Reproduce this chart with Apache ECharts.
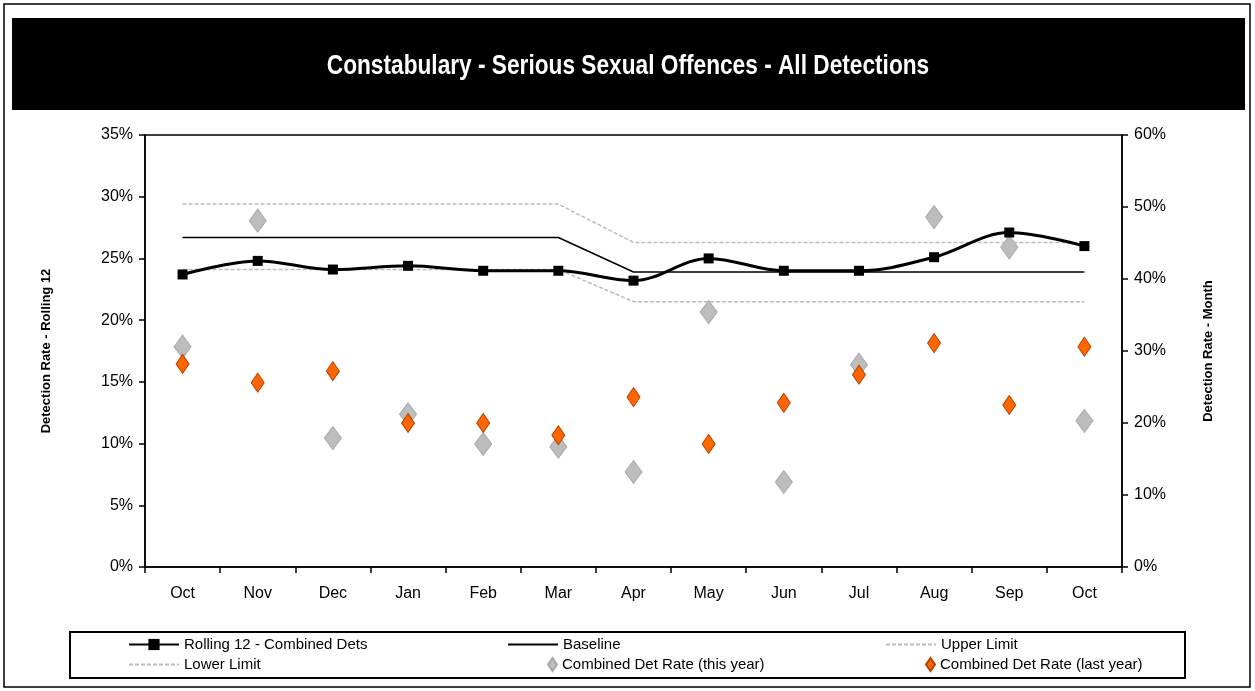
<!DOCTYPE html>
<html>
<head>
<meta charset="utf-8">
<script src="https://cdn.jsdelivr.net/npm/echarts@6/dist/echarts.min.js"></script>
<style>
  html, body { margin: 0; padding: 0; background: #fff; }
  #chart { width: 1255px; height: 691px; }
</style>
</head>
<body>
<div id="chart"></div>
<script>
const months = ['Oct', 'Nov', 'Dec', 'Jan', 'Feb', 'Mar', 'Apr', 'May', 'Jun', 'Jul', 'Aug', 'Sep', 'Oct'];

// left axis (rolling 12), percent
const rolling12 = [23.7, 24.8, 24.1, 24.4, 24.0, 24.0, 23.2, 25.0, 24.0, 24.0, 25.1, 27.1, 26.0];
const baseline = [26.7, 26.7, 26.7, 26.7, 26.7, 26.7, 23.9, 23.9, 23.9, 23.9, 23.9, 23.9, 23.9];
const upperLimit = [29.4, 29.4, 29.4, 29.4, 29.4, 29.4, 26.3, 26.3, 26.3, 26.3, 26.3, 26.3, 26.3];
const lowerLimit = [24.1, 24.1, 24.1, 24.1, 24.1, 24.1, 21.5, 21.5, 21.5, 21.5, 21.5, 21.5, 21.5];

// right axis (month), percent
const thisYear = [30.6, 48.1, 17.9, 21.2, 17.1, 16.7, 13.2, 35.4, 11.8, 28.1, 48.6, 44.4, 20.3];
const lastYear = [28.2, 25.6, 27.2, 20.0, 20.0, 18.3, 23.6, 17.1, 22.8, 26.7, 31.1, 22.5, 30.6];

const leftTicks = { min: 0, max: 35, interval: 5 };
const rightTicks = { min: 0, max: 60, interval: 10 };

const font = "'Liberation Sans', Arial, sans-serif";

const chart = echarts.init(document.getElementById('chart'));

const legendStyle = { fontFamily: font, fontSize: 15, color: '#000' };
function legendAt(name, left, top, w, h, extra) {
  return Object.assign({
    data: [name], left: left, top: top, itemWidth: w, itemHeight: h,
    itemGap: 6, textStyle: legendStyle, selectedMode: false, padding: 0
  }, extra || {});
}
const noSymbol = { itemStyle: { opacity: 0 } };

chart.setOption({
  animation: false,
  backgroundColor: '#fff',
  graphic: [
    { type: 'rect', shape: { x: 4, y: 4, width: 1246, height: 683 }, style: { fill: 'none', stroke: '#000', lineWidth: 1.5 }, z: -10 },
    { type: 'rect', shape: { x: 12, y: 18, width: 1233, height: 92 }, style: { fill: '#000' }, z: -5 },
    {
      type: 'text', x: 628, y: 67, scaleX: 0.84, z: 10,
      style: {
        text: 'Constabulary - Serious Sexual Offences - All Detections',
        fill: '#fff', font: 'bold 27px ' + font, align: 'center', verticalAlign: 'middle'
      }
    },
    { type: 'rect', shape: { x: 70, y: 632, width: 1115, height: 46 }, style: { fill: 'none', stroke: '#000', lineWidth: 2 }, z: -5 },
    { type: 'rect', shape: { x: 145, y: 135, width: 977, height: 432 }, style: { fill: 'none', stroke: '#000', lineWidth: 1.5 }, z: -1 }
  ],
  legend: [
    legendAt('Rolling 12 - Combined Dets', 128, 637, 50, 14),
    legendAt('Baseline', 507, 637, 50, 14, noSymbol),
    legendAt('Upper Limit', 885, 637, 50, 14, noSymbol),
    legendAt('Lower Limit', 128, 657, 50, 14, noSymbol),
    legendAt('Combined Det Rate (this year)', 547, 657, 9, 13),
    legendAt('Combined Det Rate (last year)', 925, 657, 9, 13)
  ],
  grid: { left: 145, right: 133, top: 135, bottom: 124 },
  xAxis: {
    type: 'category',
    data: months,
    boundaryGap: true,
    axisLine: { lineStyle: { color: '#000', width: 1.5 } },
    axisTick: { show: true, length: 6, lineStyle: { color: '#000', width: 1.5 } },
    axisLabel: { color: '#000', fontFamily: font, fontSize: 16, margin: 19 },
    splitLine: { show: false }
  },
  yAxis: [
    {
      type: 'value', position: 'left',
      min: leftTicks.min, max: leftTicks.max, interval: leftTicks.interval,
      name: 'Detection Rate - Rolling 12', nameLocation: 'middle', nameGap: 92,
      nameTextStyle: { color: '#000', fontFamily: font, fontWeight: 'bold', fontSize: 13 },
      axisLine: { show: true, lineStyle: { color: '#000', width: 1.5 } },
      axisTick: { show: true, length: 6, lineStyle: { color: '#000', width: 1.5 } },
      axisLabel: { color: '#000', fontFamily: font, fontSize: 16, margin: 12, formatter: '{value}%' },
      splitLine: { show: false }
    },
    {
      type: 'value', position: 'right',
      min: rightTicks.min, max: rightTicks.max, interval: rightTicks.interval,
      name: 'Detection Rate - Month', nameLocation: 'middle', nameGap: 80,
      nameRotate: 90,
      nameTextStyle: { color: '#000', fontFamily: font, fontWeight: 'bold', fontSize: 13 },
      axisLine: { show: true, lineStyle: { color: '#000', width: 1.5 } },
      axisTick: { show: true, length: 6, lineStyle: { color: '#000', width: 1.5 } },
      axisLabel: { color: '#000', fontFamily: font, fontSize: 16, margin: 12, formatter: '{value}%' },
      splitLine: { show: false }
    }
  ],
  series: [
    {
      name: 'Combined Det Rate (this year)', type: 'scatter', yAxisIndex: 1,
      data: thisYear, symbol: 'diamond', symbolSize: [17, 23], z: 1,
      itemStyle: { color: '#bdbdbd', borderColor: '#a8a8a8', borderWidth: 1, opacity: 1 }
    },
    {
      name: 'Combined Det Rate (last year)', type: 'scatter', yAxisIndex: 1,
      data: lastYear, symbol: 'diamond', symbolSize: [13, 19], z: 2,
      itemStyle: { color: '#ff6600', borderColor: '#b84000', borderWidth: 1, opacity: 1 }
    },
    {
      name: 'Upper Limit', type: 'line', yAxisIndex: 0, data: upperLimit,
      symbol: 'none', z: 3,
      lineStyle: { color: '#bbbbbb', width: 1.5, type: [4, 2] },
      itemStyle: { color: '#bbbbbb' }
    },
    {
      name: 'Lower Limit', type: 'line', yAxisIndex: 0, data: lowerLimit,
      symbol: 'none', z: 3,
      lineStyle: { color: '#bbbbbb', width: 1.5, type: [4, 2] },
      itemStyle: { color: '#bbbbbb' }
    },
    {
      name: 'Baseline', type: 'line', yAxisIndex: 0, data: baseline,
      symbol: 'none', z: 4,
      lineStyle: { color: '#000', width: 1.5 },
      itemStyle: { color: '#000' }
    },
    {
      name: 'Rolling 12 - Combined Dets', type: 'line', yAxisIndex: 0, data: rolling12,
      smooth: 0.35, symbol: 'rect', symbolSize: 10, showAllSymbol: true, z: 5,
      lineStyle: { color: '#000', width: 3 },
      itemStyle: { color: '#000' }
    }
  ]
});
</script>
</body>
</html>
